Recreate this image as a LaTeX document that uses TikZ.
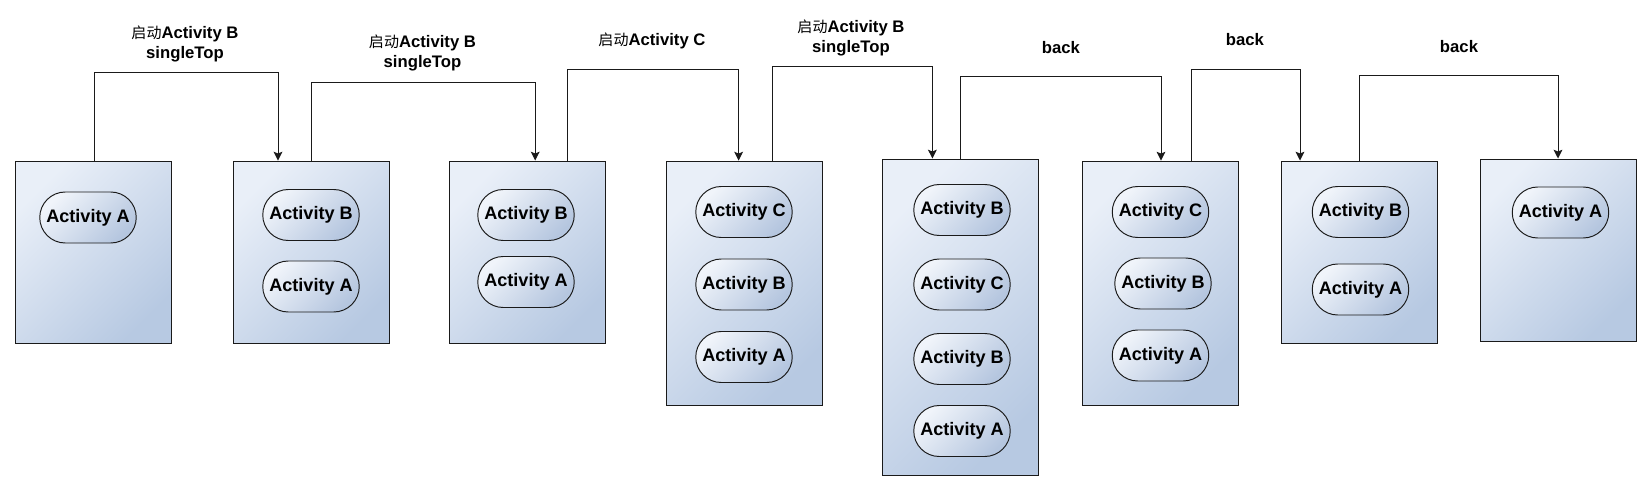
\documentclass[tikz,border=0pt]{standalone}
\usepackage{fontspec}
\setmainfont{Liberation Sans}
\newfontfamily\cjk[Scale=0.9]{Noto Sans CJK SC}
\usetikzlibrary{arrows.meta, shapes.misc}
\definecolor{taskLine}{HTML}{1A1A1A}
\definecolor{taskLight}{HTML}{E9EFF8}
\definecolor{taskDark}{HTML}{B7C9E2}
\definecolor{actLight}{HTML}{F0F4FA}
\definecolor{actDark}{HTML}{B5C6DF}
\tikzset{
  stackfig/.style={
    every node/.append style={font=\bfseries\fontsize{9.5}{11.4}\selectfont},
    >={Stealth[length=5pt, width=5pt, inset=1pt]},
    line width=0.55pt,
  },
  tasknode/.style={
    draw=taskLine, top color=taskLight, bottom color=taskDark, shading angle=45,
    minimum width=31.2mm, inner sep=0pt,
  },
  % Activities im Stapel: abgerundete Kapseln
  actnode/.style={
    draw=taskLine, rounded rectangle, top color=actLight, bottom color=actDark,
    shading angle=45, minimum width=20mm, minimum height=10.2mm, inner sep=1pt,
    font=\bfseries\fontsize{10.3}{12}\selectfont,
  },
  flow/.style={draw=taskLine, ->},
  steplabel/.style={align=center, inner sep=1pt},
}
\newcommand{\qd}{{\cjk\mdseries 启动}}

\begin{document}
\begin{tikzpicture}[stackfig]
  \useasboundingbox (0,0) rectangle (33.04,-9.84);
  \node[tasknode, minimum height=36.5mm] (Task1) at (1.875,-5.045) {};
  \node[tasknode, minimum height=36.5mm] (Task2) at (6.226,-5.045) {};
  \node[tasknode, minimum height=36.5mm] (Task3) at (10.557,-5.045) {};
  \node[tasknode, minimum height=48.9mm] (Task4) at (14.888,-5.666) {};
  \node[tasknode, minimum height=63.2mm] (Task5) at (19.217,-6.34) {};
  \node[tasknode, minimum height=48.9mm] (Task6) at (23.2,-5.666) {};
  \node[tasknode, minimum height=36.5mm] (Task7) at (27.18,-5.045) {};
  \node[tasknode, minimum height=36.4mm] (Task8) at (31.16,-5.0) {};
  \node[actnode] (Task1A) at (1.76,-4.35) {Activity A};
  \node[actnode] (Task2B) at (6.22,-4.30) {Activity B};
  \node[actnode] (Task2A) at (6.22,-5.73) {Activity A};
  \node[actnode] (Task3B) at (10.52,-4.30) {Activity B};
  \node[actnode] (Task3A) at (10.52,-5.64) {Activity A};
  \node[actnode] (Task4C) at (14.88,-4.24) {Activity C};
  \node[actnode] (Task4B) at (14.88,-5.69) {Activity B};
  \node[actnode] (Task4A) at (14.88,-7.14) {Activity A};
  \node[actnode] (Task5Btop) at (19.24,-4.20) {Activity B};
  \node[actnode] (Task5C) at (19.24,-5.69) {Activity C};
  \node[actnode] (Task5B) at (19.24,-7.18) {Activity B};
  \node[actnode] (Task5A) at (19.24,-8.62) {Activity A};
  \node[actnode] (Task6C) at (23.21,-4.24) {Activity C};
  \node[actnode] (Task6B) at (23.26,-5.67) {Activity B};
  \node[actnode] (Task6A) at (23.21,-7.11) {Activity A};
  \node[actnode] (Task7B) at (27.21,-4.24) {Activity B};
  \node[actnode] (Task7A) at (27.21,-5.79) {Activity A};
  \node[actnode] (Task8A) at (31.21,-4.25) {Activity A};
  \node[steplabel] (Step1) at (3.70,-0.886) {\qd Activity B\\singleTop};
  \node[steplabel] (Step2) at (8.45,-1.054) {\qd Activity B\\singleTop};
  \node[steplabel] (Step3) at (13.04,-0.82) {\qd Activity C};
  \node[steplabel] (Step4) at (17.02,-0.758) {\qd Activity B\\singleTop};
  \node[steplabel] (Step5) at (21.22,-0.948) {back};
  \node[steplabel] (Step6) at (24.90,-0.80) {back};
  \node[steplabel] (Step7) at (29.18,-0.928) {back};
  \draw[flow] ([xshift=0.02cm]Task1.north) -- ++(0,1.766) -| ([xshift=-0.666cm]Task2.north);
  \draw[flow] (Task2.north) -- ++(0,1.556) -| ([xshift=0.147cm]Task3.north);
  \draw[flow] ([xshift=0.80cm]Task3.north) -- ++(0,1.83) -| ([xshift=-0.116cm]Task4.north);
  \draw[flow] ([xshift=0.558cm]Task4.north) -- ++(0,1.872) -| ([xshift=-0.569cm]Task5.north);
  \draw[flow] (Task5.north) -- ++(0,1.642) -| ([xshift=0.02cm]Task6.north);
  \draw[flow] ([xshift=0.632cm]Task6.north) -- ++(0,1.83) -| ([xshift=-1.18cm]Task7.north);
  \draw[flow] (Task7.north) -- ++(0,1.702) -| (Task8.north);
\end{tikzpicture}
\end{document}
